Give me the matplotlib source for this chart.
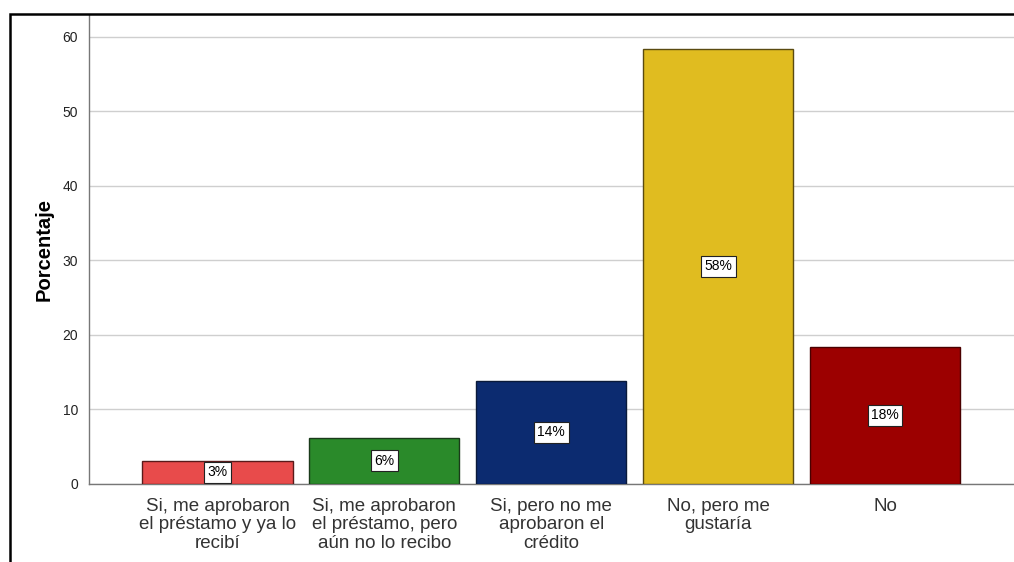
import matplotlib

matplotlib.use("Agg")

import matplotlib.pyplot as plt
from matplotlib.patches import Rectangle

plt.rcParams["font.family"] = ["Liberation Sans", "DejaVu Sans"]

categories = [
    "Si, me aprobaron\nel préstamo y ya lo\nrecibí",
    "Si, me aprobaron\nel préstamo, pero\naún no lo recibo",
    "Si, pero no me\naprobaron el\ncrédito",
    "No, pero me\ngustaría",
    "No",
]
percent = [3.1, 6.2, 13.8, 58.4, 18.4]
fill_colors = ["#E84B4B", "#2A8A2A", "#0C2B70", "#E0BC20", "#9C0000"]
edge_colors = ["#5a1a1a", "#1a3a1a", "#0a1a3a", "#5a4a10", "#4a0000"]
y_ticks = [0, 10, 20, 30, 40, 50, 60]

fig = plt.figure(figsize=(10.14, 5.62), dpi=100)
ax = fig.add_axes([0.0878, 0.139, 0.915, 0.835])

x = range(len(categories))
ax.bar(x, percent, width=0.9, color=fill_colors, edgecolor=edge_colors,
       linewidth=1.0, zorder=3)

for i, v in enumerate(percent):
    ax.text(i, v / 2, f"{v:.0f}%", ha="center", va="center", fontsize=10,
            zorder=4,
            bbox=dict(boxstyle="square,pad=0.25", fc="white", ec="#222222",
                      lw=0.8))

ax.set_xlim(-0.77, 4.79)
ax.set_ylim(0, 63)
ax.set_yticks(y_ticks)
ax.set_yticklabels([str(t) for t in y_ticks], fontsize=10, color="#222222")
ax.set_xticks(list(x))
ax.set_xticklabels(categories, fontsize=13.5, color="#333333",
                   linespacing=1.12)
ax.tick_params(axis="x", length=0, pad=10)
ax.tick_params(axis="y", length=0, pad=8)
ax.yaxis.grid(True, color="#cfcfcf", linewidth=1.0, zorder=0)
ax.set_axisbelow(True)

for side in ("top", "right"):
    ax.spines[side].set_visible(False)
for side in ("left", "bottom"):
    ax.spines[side].set_color("#777777")
    ax.spines[side].set_linewidth(1.0)

ax.set_ylabel("Porcentaje", fontsize=14.5, fontweight="bold", labelpad=6)

# outer frame of the chart window
fig.patches.append(Rectangle((0.0099, -0.1), 1.2, 1.0751,
                             transform=fig.transFigure, fill=False,
                             ec="black", lw=1.8, zorder=10))

fig.savefig("out.png", dpi=100)
